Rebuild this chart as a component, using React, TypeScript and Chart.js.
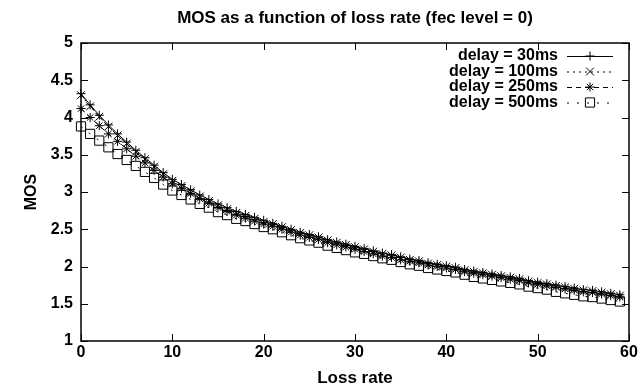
import React, { useEffect, useRef } from "react";
import { Chart, registerables } from "chart.js";
import { drawPoint } from "chart.js/helpers";

Chart.register(...registerables);

const chartTitle = "MOS as a function of loss rate (fec level = 0)";
const xAxisTitle = "Loss rate";
const yAxisTitle = "MOS";
const xTickValues = [0, 10, 20, 30, 40, 50, 60];
const yTickValues = [1, 1.5, 2, 2.5, 3, 3.5, 4, 4.5, 5];

const lossRate = [
  0, 1, 2, 3, 4, 5, 6, 7, 8, 9, 10, 11, 12, 13, 14, 15, 16, 17, 18, 19,
  20, 21, 22, 23, 24, 25, 26, 27, 28, 29, 30, 31, 32, 33, 34, 35, 36, 37, 38, 39,
  40, 41, 42, 43, 44, 45, 46, 47, 48, 49, 50, 51, 52, 53, 54, 55, 56, 57, 58, 59,
];

const delayLabels = ["delay = 30ms", "delay = 100ms", "delay = 250ms", "delay = 500ms"];

const mos30 = [
  4.32, 4.17, 4.03, 3.9, 3.78, 3.67, 3.56, 3.46, 3.36, 3.26,
  3.17, 3.1, 3.03, 2.96, 2.9, 2.84, 2.79, 2.74, 2.7, 2.66,
  2.62, 2.58, 2.54, 2.5, 2.46, 2.43, 2.4, 2.36, 2.33, 2.3,
  2.27, 2.24, 2.21, 2.18, 2.16, 2.13, 2.1, 2.08, 2.05, 2.03,
  2.01, 1.99, 1.96, 1.94, 1.92, 1.9, 1.88, 1.86, 1.84, 1.81,
  1.79, 1.77, 1.75, 1.73, 1.71, 1.69, 1.68, 1.66, 1.64, 1.62,
];

const mos100 = [
  4.3, 4.15, 4.01, 3.88, 3.76, 3.65, 3.54, 3.44, 3.34, 3.24,
  3.15, 3.08, 3.01, 2.94, 2.88, 2.82, 2.77, 2.72, 2.68, 2.64,
  2.6, 2.57, 2.53, 2.49, 2.45, 2.42, 2.39, 2.35, 2.32, 2.29,
  2.26, 2.23, 2.2, 2.17, 2.15, 2.12, 2.09, 2.07, 2.04, 2.02,
  2.0, 1.98, 1.95, 1.93, 1.91, 1.89, 1.87, 1.85, 1.83, 1.8,
  1.78, 1.76, 1.74, 1.72, 1.7, 1.68, 1.67, 1.65, 1.63, 1.61,
];

const mos250 = [
  4.12, 4.0, 3.89, 3.78, 3.68, 3.58, 3.48, 3.39, 3.29, 3.2,
  3.11, 3.05, 2.98, 2.91, 2.85, 2.79, 2.74, 2.69, 2.65, 2.61,
  2.57, 2.54, 2.5, 2.46, 2.42, 2.39, 2.36, 2.32, 2.29, 2.26,
  2.23, 2.2, 2.17, 2.14, 2.12, 2.09, 2.07, 2.05, 2.02, 2.0,
  1.98, 1.96, 1.93, 1.91, 1.89, 1.87, 1.85, 1.83, 1.81, 1.78,
  1.76, 1.74, 1.72, 1.7, 1.68, 1.66, 1.65, 1.63, 1.61, 1.59,
];

const mos500 = [
  3.88, 3.78, 3.69, 3.6, 3.51, 3.43, 3.35, 3.27, 3.19, 3.1,
  3.02, 2.96, 2.9, 2.84, 2.79, 2.73, 2.69, 2.64, 2.61, 2.57,
  2.53, 2.5, 2.46, 2.42, 2.38, 2.35, 2.32, 2.28, 2.25, 2.22,
  2.19, 2.17, 2.14, 2.11, 2.09, 2.06, 2.03, 2.01, 1.98, 1.96,
  1.94, 1.92, 1.89, 1.86, 1.84, 1.82, 1.8, 1.78, 1.76, 1.73,
  1.71, 1.69, 1.66, 1.64, 1.62, 1.6, 1.59, 1.57, 1.55, 1.53,
];

const seriesValues = [mos30, mos100, mos250, mos500];
const seriesPointStyles = ["cross", "crossRot", "star", "rect"];
const seriesPointRadius = [4.5, 5.5, 4.5, 6.5];
const seriesDash = [[], [2, 4], [5, 4], [2, 8]];

const FONT = "'Liberation Sans', Arial, Helvetica, sans-serif";

const framePlugin = {
  id: "gnuframe",
  afterDatasetsDraw(chart: any) {
    const { ctx, chartArea, scales } = chart;
    const { left, right, top, bottom } = chartArea;
    const xs = scales.x;
    const ys = scales.y;
    ctx.save();
    ctx.strokeStyle = "#000";
    ctx.lineWidth = 1.5;
    ctx.setLineDash([]);
    ctx.strokeRect(left, top, right - left, bottom - top);
    ctx.lineWidth = 1;
    const tl = 7;
    ctx.beginPath();
    xTickValues.forEach((v) => {
      const px = Math.round(xs.getPixelForValue(v)) + 0.5;
      ctx.moveTo(px, bottom);
      ctx.lineTo(px, bottom - tl);
      ctx.moveTo(px, top);
      ctx.lineTo(px, top + tl);
    });
    yTickValues.forEach((v) => {
      const py = Math.round(ys.getPixelForValue(v)) + 0.5;
      ctx.moveTo(left, py);
      ctx.lineTo(left + tl, py);
      ctx.moveTo(right, py);
      ctx.lineTo(right - tl, py);
    });
    ctx.stroke();

    // title
    ctx.fillStyle = "#000";
    ctx.font = `bold 17px ${FONT}`;
    ctx.textAlign = "center";
    ctx.textBaseline = "middle";
    ctx.fillText(chartTitle, (left + right) / 2, 18);

    // legend
    ctx.font = `bold 16px ${FONT}`;
    ctx.textAlign = "right";
    delayLabels.forEach((label, i) => {
      const y = top + 13 + i * 15.5;
      ctx.fillStyle = "#000";
      ctx.fillText(label, right - 71, y);
      ctx.beginPath();
      ctx.setLineDash(seriesDash[i]);
      ctx.moveTo(right - 62, y + 0.5);
      ctx.lineTo(right - 16, y + 0.5);
      ctx.stroke();
      ctx.setLineDash([]);
      ctx.fillStyle = "rgba(0,0,0,0)";
      drawPoint(
        ctx,
        { pointStyle: seriesPointStyles[i], radius: seriesPointRadius[i], rotation: 0, borderWidth: 1 } as any,
        right - 39,
        y
      );
    });
    ctx.restore();
  },
};

export default function App() {
  const ref = useRef<HTMLCanvasElement | null>(null);
  useEffect(() => {
    document.body.style.margin = "0";
    const canvas = ref.current;
    if (!canvas) return;
    const datasets = seriesValues.map((vals, i) => ({
      label: delayLabels[i],
      data: lossRate.map((x, j) => ({ x, y: vals[j] })),
      borderColor: "#000",
      borderWidth: 1,
      borderDash: seriesDash[i],
      pointStyle: seriesPointStyles[i],
      pointRadius: seriesPointRadius[i],
      pointBorderColor: "#000",
      pointBackgroundColor: "rgba(0,0,0,0)",
      pointBorderWidth: 1,
      tension: 0,
      fill: false,
      clip: false,
    }));
    const chart = new Chart(canvas, {
      type: "line",
      data: { datasets } as any,
      plugins: [framePlugin],
      options: {
        responsive: false,
        animation: false,
        devicePixelRatio: 1,
        layout: { padding: { top: 43, right: 12, left: 0, bottom: 0 } },
        plugins: {
          legend: { display: false },
          title: { display: false },
          tooltip: { enabled: false },
        },
        scales: {
          x: {
            type: "linear",
            min: 0,
            max: 60,
            afterBuildTicks: (scale: any) => {
              scale.ticks = xTickValues.map((v) => ({ value: v }));
            },
            afterFit: (scale: any) => {
              scale.height = 48;
            },
            ticks: {
              color: "#000",
              font: { family: FONT, weight: "bold", size: 16 },
              padding: 2,
              maxRotation: 0,
              autoSkip: false,
            },
            grid: { display: false, drawTicks: false },
            border: { display: false },
            title: {
              display: true,
              text: xAxisTitle,
              color: "#000",
              font: { family: FONT, weight: "bold", size: 17 },
              padding: { top: 0, bottom: 0 },
            },
          },
          y: {
            type: "linear",
            min: 1,
            max: 5,
            afterBuildTicks: (scale: any) => {
              scale.ticks = yTickValues.map((v) => ({ value: v }));
            },
            afterFit: (scale: any) => {
              scale.width = 81;
            },
            ticks: {
              color: "#000",
              font: { family: FONT, weight: "bold", size: 16 },
              padding: 8,
              autoSkip: false,
              callback: (v: any) => `${v}`,
            },
            grid: { display: false, drawTicks: false },
            border: { display: false },
            title: {
              display: true,
              text: yAxisTitle,
              color: "#000",
              font: { family: FONT, weight: "bold", size: 16 },
              padding: { top: 22, bottom: 0 },
            },
          },
        },
      } as any,
    });
    return () => chart.destroy();
  }, []);
  return <canvas ref={ref} width={641} height={389} style={{ display: "block" }} />;
}
